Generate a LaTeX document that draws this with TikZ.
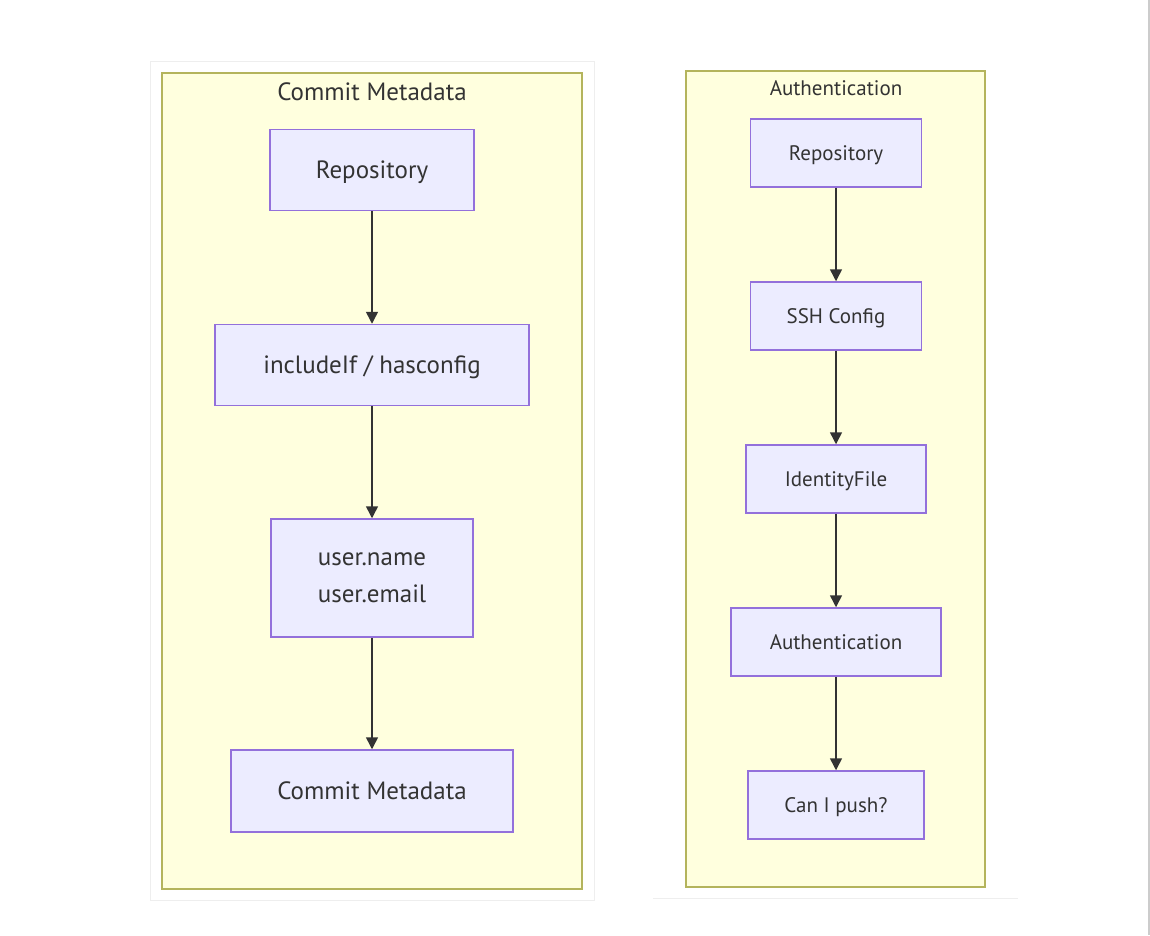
\documentclass[tikz,border=0pt]{standalone}
\usepackage{fontspec}
\setmainfont{PT Sans}
\usetikzlibrary{arrows.meta}
\definecolor{nodeFill}{HTML}{ECECFF}
\definecolor{nodeLine}{HTML}{9370DB}
\definecolor{groupFill}{HTML}{FFFFDE}
\definecolor{groupLine}{HTML}{B4B45C}
\definecolor{inkGray}{HTML}{333333}
\definecolor{paneLine}{HTML}{EEEEEE}
\tikzset{
  stepNode/.style={%
    rectangle, draw=nodeLine, fill=nodeFill, line width=1.5pt,
    text=inkGray, inner sep=0pt, align=center, text depth=0pt,
  },
  bigText/.style={font=\fontsize{25}{37}\selectfont},
  smallText/.style={font=\fontsize{21}{26}\selectfont},
  groupBox/.style={draw=groupLine, fill=groupFill, line width=2pt},
  flowArrow/.style={draw=inkGray, line width=1.5pt, -{Triangle[width=12pt,length=12pt]}},
}

\begin{document}
\begin{tikzpicture}[x=1pt,y=-1pt]
          \useasboundingbox[fill=white] (0,0) rectangle (1150,935);

          % panes behind the two groups
          \draw[paneLine,line width=1pt] (150,61) rectangle (594,900);
          \draw[paneLine,line width=1pt] (653,898) -- (1018,898);
          \draw[black!20,line width=2pt] (1149,0) -- (1149,935);

          % left group
          \draw[groupBox] (162,73) rectangle (582,889);
          \node[bigText,text=inkGray] (leftTitle) at (372,92) {Commit Metadata};
          \node[stepNode,bigText,minimum width=204pt,minimum height=81pt] (repoA) at (372,170) {Repository};
          \node[stepNode,bigText,minimum width=314pt,minimum height=81pt] (incl) at (372,365) {includeIf / hasconfig};
          \node[stepNode,bigText,minimum width=202pt,minimum height=118pt] (user) at (372,578) {user.name\\user.email};
          \node[stepNode,bigText,minimum width=282pt,minimum height=82pt] (meta) at (372,791) {Commit Metadata};

          % right group
          \draw[groupBox] (686,71) rectangle (985,887);
          \node[smallText,text=inkGray] (rightTitle) at (836,88) {Authentication};
          \node[stepNode,smallText,minimum width=171pt,minimum height=68pt] (repoB) at (836,153) {Repository};
          \node[stepNode,smallText,minimum width=171pt,minimum height=68pt] (ssh) at (836,316) {SSH Config};
          \node[stepNode,smallText,minimum width=180pt,minimum height=68pt] (ident) at (836,479) {IdentityFile};
          \node[stepNode,smallText,minimum width=210pt,minimum height=68pt] (auth) at (836,642) {Authentication};
          \node[stepNode,smallText,minimum width=176pt,minimum height=68pt] (push) at (836,805) {Can I push?};

          \draw[flowArrow]
          (repoA) -- (incl);
          \draw[flowArrow] (incl) -- (user);
          \draw[flowArrow] (user) -- (meta);
          \draw[flowArrow] (repoB) -- (ssh);
          \draw[flowArrow] (ssh) -- (ident);
          \draw[flowArrow] (ident) -- (auth);
          \draw[flowArrow] (auth) -- (push);
        \end{tikzpicture}
\end{document}
